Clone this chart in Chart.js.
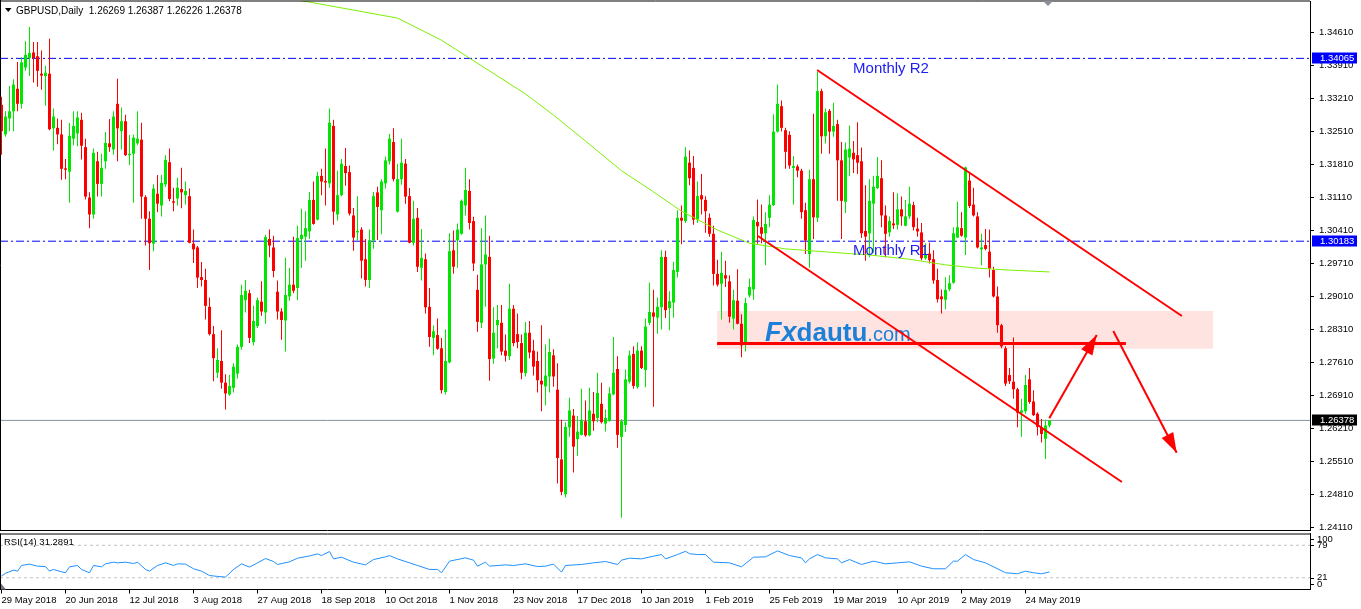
<!DOCTYPE html>
<html><head><meta charset="utf-8">
<script src="https://cdn.jsdelivr.net/npm/chart.js@4.4.1/dist/chart.umd.min.js"></script>
<style>
html,body{margin:0;padding:0;background:#fff;width:1361px;height:609px;overflow:hidden}
canvas{position:absolute;left:0}
#main{top:0}
#rsi{top:531px}
</style></head><body>
<canvas id="rsi" width="1361" height="78" style="width:1361px;height:78px"></canvas>
<canvas id="main" width="1361" height="545" style="width:1361px;height:545px"></canvas>
<script>
// ---------------- DATA ----------------
const symbolTitle = 'GBPUSD,Daily';
const opens = [1.3308,1.3245,1.3279,1.3294,1.3342,1.3310,1.3387,1.3407,1.3419,1.3411,
1.3374,1.3369,1.3374,1.3258,1.3259,1.3245,1.3173,1.3166,1.3236,1.3247,
1.3276,1.3218,1.3111,1.3075,1.3188,1.3140,1.3188,1.3226,1.3213,1.3310,
1.3252,1.3273,1.3201,1.3204,1.3226,1.3234,1.3112,1.3066,1.3013,1.3119,
1.3094,1.3139,1.3186,1.3103,1.3109,1.3129,1.3116,1.3114,1.3013,1.3005,
1.2942,1.2936,1.2879,1.2821,1.2739,1.2764,1.2718,1.2693,1.2707,1.2737,
1.2794,1.2893,1.2908,1.2804,1.2838,1.2890,1.2867,1.3023,1.3005,1.2911,
1.2869,1.2850,1.2901,1.2926,1.2919,1.3023,1.3028,1.3039,1.3106,1.3064,
1.3157,1.3146,1.3141,1.3263,1.3075,1.3116,1.3178,1.3165,1.3073,1.3037,
1.3043,1.2980,1.2936,1.3020,1.3122,1.3084,1.3141,1.3188,1.3229,1.3081,
1.3150,1.3183,1.3114,1.3015,1.3068,1.2962,1.2980,1.2879,1.2813,1.2819,
1.2791,1.2698,1.2761,1.2999,1.3020,1.3034,1.3094,1.3125,1.3061,1.2915,
1.2845,1.2969,1.2985,1.2769,1.2840,1.2845,1.2786,1.2774,1.2875,1.2821,
1.2802,1.2738,1.2824,1.2786,1.2764,1.2722,1.2710,1.2731,1.2776,1.2703,
1.2555,1.2481,1.2623,1.2648,1.2598,1.2607,1.2636,1.2606,1.2652,1.2643,
1.2673,1.2631,1.2637,1.2693,1.2747,1.2603,1.2628,1.2720,1.2779,1.2709,
1.2786,1.2745,1.2845,1.2867,1.2856,1.2878,1.2985,1.2876,1.2888,1.2953,
1.3068,1.3061,1.3185,1.3174,1.3064,1.3116,1.3106,1.3068,1.3034,1.2949,
1.2928,1.2946,1.2933,1.2854,1.2892,1.2843,1.2799,1.2903,1.2916,1.3059,
1.3048,1.3035,1.3068,1.3095,1.3251,1.3305,1.3254,1.3244,1.3174,1.3177,
1.3168,1.3084,1.2991,1.3150,1.3068,1.3337,1.3241,1.3295,1.3251,1.3267,
1.3190,1.3102,1.3196,1.3206,1.3201,1.3188,1.3040,1.3035,1.3098,1.3131,
1.3152,1.3073,1.3037,1.3056,1.3053,1.3086,1.3051,1.3071,1.3095,1.3045,
1.3037,1.2982,1.2992,1.2980,1.2936,1.2901,1.2894,1.2916,1.2930,1.3026,
1.3046,1.3026,1.3147,1.3096,1.3071,1.3001,1.3010,1.2996,1.2957,1.2901,
1.2840,1.2791,1.2734,1.2720,1.2704,1.2654,1.2657,1.2725,1.2678,1.2652,
1.2623,1.2599,1.26269];
const highs = [1.3325,1.3294,1.3348,1.3362,1.3399,1.3409,1.3443,1.3473,1.3441,1.3441,
1.3423,1.3391,1.3448,1.3300,1.3279,1.3276,1.3193,1.3269,1.3294,1.3294,
1.3291,1.3236,1.3122,1.3215,1.3208,1.3204,1.3250,1.3278,1.3294,1.3363,
1.3302,1.3287,1.3244,1.3245,1.3294,1.3270,1.3116,1.3082,1.3139,1.3159,
1.3159,1.3201,1.3215,1.3132,1.3153,1.3174,1.3145,1.3130,1.3043,1.3008,
1.2974,1.2960,1.2899,1.2838,1.2791,1.2829,1.2736,1.2734,1.2759,1.2799,
1.2926,1.2936,1.2915,1.2881,1.2899,1.2933,1.3032,1.3043,1.3030,1.2935,
1.2876,1.2983,1.2962,1.3028,1.3051,1.3087,1.3082,1.3123,1.3145,1.3166,
1.3172,1.3215,1.3300,1.3276,1.3168,1.3193,1.3216,1.3179,1.3089,1.3114,
1.3048,1.3023,1.3043,1.3123,1.3134,1.3150,1.3198,1.3246,1.3258,1.3183,
1.3236,1.3193,1.3131,1.3104,1.3089,1.3044,1.2992,1.2919,1.2840,1.2854,
1.2813,1.2831,1.3035,1.3041,1.3056,1.3107,1.3174,1.3150,1.3070,1.2947,
1.3046,1.3073,1.3030,1.2878,1.2883,1.2883,1.2820,1.2928,1.2883,1.2865,
1.2820,1.2847,1.2849,1.2809,1.2784,1.2840,1.2799,1.2811,1.2789,1.2759,
1.2639,1.2634,1.2686,1.2662,1.2647,1.2705,1.2680,1.2707,1.2698,1.2739,
1.2718,1.2661,1.2708,1.2815,1.2774,1.2640,1.2746,1.2786,1.2795,1.2804,
1.2795,1.2854,1.2930,1.2915,1.2899,1.2999,1.2998,1.2912,1.2974,1.3084,
1.3094,1.3218,1.3211,1.3199,1.3145,1.3161,1.3114,1.3077,1.3051,1.2979,
1.2996,1.2977,1.2946,1.2915,1.2959,1.2863,1.2898,1.2939,1.3071,1.3107,
1.3096,1.3080,1.3116,1.3288,1.3351,1.3317,1.3259,1.3252,1.3199,1.3181,
1.3172,1.3100,1.3170,1.3289,1.3378,1.3342,1.3300,1.3299,1.3312,1.3276,
1.3229,1.3228,1.3264,1.3231,1.3271,1.3217,1.3137,1.3150,1.3157,1.3197,
1.3190,1.3094,1.3071,1.3122,1.3120,1.3113,1.3106,1.3134,1.3102,1.3068,
1.3057,1.3014,1.3015,1.2999,1.2960,1.2916,1.2942,1.2946,1.3048,1.3102,
1.3080,1.3177,1.3165,1.3132,1.3080,1.3034,1.3044,1.3043,1.2964,1.2922,
1.2843,1.2795,1.2749,1.2814,1.2707,1.2684,1.2734,1.2749,1.2702,1.2655,
1.2641,1.2639,1.26387];
const lows = [1.3202,1.3240,1.3252,1.3252,1.3294,1.3300,1.3380,1.3369,1.3355,1.3346,
1.3340,1.3306,1.3254,1.3211,1.3224,1.3149,1.3150,1.3100,1.3222,1.3220,
1.3192,1.3107,1.3046,1.3066,1.3113,1.3113,1.3172,1.3208,1.3202,1.3188,
1.3213,1.3199,1.3180,1.3100,1.3222,1.3066,1.3009,1.2957,1.2997,1.3080,
1.3071,1.3134,1.3103,1.3082,1.3094,1.3088,1.3096,1.3014,1.2972,1.2919,
1.2922,1.2852,1.2818,1.2721,1.2728,1.2705,1.2661,1.2690,1.2697,1.2727,
1.2788,1.2867,1.2802,1.2797,1.2834,1.2860,1.2843,1.2984,1.2942,1.2852,
1.2809,1.2784,1.2892,1.2908,1.2893,1.2962,1.2977,1.3023,1.3053,1.3062,
1.3116,1.3094,1.3132,1.3053,1.3062,1.3114,1.3136,1.3073,1.2998,1.3020,
1.2939,1.2922,1.2919,1.3002,1.3021,1.3033,1.3130,1.3181,1.3145,1.3079,
1.3138,1.3098,1.3014,1.3009,1.2953,1.2935,1.2865,1.2794,1.2776,1.2788,
1.2695,1.2693,1.2759,1.2949,1.2962,1.3032,1.3073,1.3043,1.2955,1.2826,
1.2834,1.2879,1.2722,1.2758,1.2791,1.2776,1.2763,1.2766,1.2795,1.2791,
1.2725,1.2731,1.2770,1.2733,1.2697,1.2657,1.2670,1.2697,1.2709,1.2504,
1.2479,1.2474,1.2603,1.2527,1.2563,1.2606,1.2603,1.2604,1.2616,1.2634,
1.2631,1.2614,1.2635,1.2691,1.2580,1.2431,1.2613,1.2716,1.2705,1.2705,
1.2747,1.2708,1.2840,1.2667,1.2822,1.2831,1.2855,1.2829,1.2856,1.2941,
1.3012,1.3057,1.3137,1.3053,1.3057,1.3075,1.3036,1.3028,1.2924,1.2922,
1.2852,1.2921,1.2845,1.2831,1.2842,1.2772,1.2784,1.2899,1.2894,1.3013,
1.3014,1.2967,1.3048,1.3093,1.3249,1.3251,1.3172,1.3172,1.3096,1.3154,
1.3066,1.2991,1.2962,1.3023,1.3059,1.3204,1.3226,1.3204,1.3240,1.3104,
1.3023,1.3078,1.3156,1.3163,1.3161,1.3025,1.2977,1.2984,1.2994,1.3129,
1.3048,1.2984,1.3028,1.3044,1.3043,1.3051,1.3050,1.3066,1.3041,1.3028,
1.2978,1.2979,1.2971,1.2928,1.2888,1.2865,1.2874,1.2912,1.2928,1.3025,
1.3028,1.2989,1.3089,1.3071,1.3003,1.2967,1.2999,1.2941,1.2899,1.2824,
1.2791,1.2711,1.2715,1.2684,1.2623,1.2603,1.2652,1.2673,1.2647,1.2606,
1.2591,1.2556,1.26226];
const closes = [1.3252,1.3283,1.3294,1.3351,1.3310,1.3398,1.3414,1.3418,1.3407,1.3380,
1.3370,1.3376,1.3256,1.3283,1.3245,1.3172,1.3170,1.3242,1.3263,1.3281,
1.3221,1.3113,1.3075,1.3206,1.3140,1.3174,1.3227,1.3218,1.3283,1.3258,
1.3273,1.3201,1.3204,1.3238,1.3236,1.3113,1.3066,1.3014,1.3130,1.3098,
1.3142,1.3191,1.3108,1.3100,1.3132,1.3122,1.3125,1.3015,1.3001,1.2941,
1.2936,1.2881,1.2821,1.2770,1.2766,1.2718,1.2695,1.2711,1.2752,1.2794,
1.2904,1.2913,1.2813,1.2849,1.2893,1.2869,1.3027,1.3009,1.2955,1.2869,
1.2851,1.2904,1.2926,1.2913,1.3025,1.3032,1.3046,1.3106,1.3055,1.3157,
1.3145,1.3143,1.3270,1.3081,1.3116,1.3183,1.3163,1.3077,1.3026,1.3040,
1.2977,1.2936,1.3020,1.3114,1.3091,1.3145,1.3190,1.3236,1.3150,1.3150,
1.3185,1.3113,1.3015,1.3066,1.2964,1.2983,1.2878,1.2815,1.2827,1.2790,
1.2702,1.2764,1.2997,1.2964,1.3043,1.3104,1.3127,1.3057,1.2971,1.2847,
1.2969,1.2990,1.2768,1.2824,1.2851,1.2784,1.2775,1.2875,1.2802,1.2804,
1.2739,1.2824,1.2782,1.2752,1.2723,1.2714,1.2733,1.2783,1.2731,1.2558,
1.2486,1.2624,1.2659,1.2582,1.2614,1.2639,1.2606,1.2659,1.2636,1.2696,
1.2634,1.2643,1.2695,1.2739,1.2607,1.2636,1.2725,1.2776,1.2711,1.2786,
1.2749,1.2837,1.2868,1.2858,1.2879,1.2985,1.2872,1.2891,1.2957,1.3068,
1.3062,1.3198,1.3152,1.3064,1.3114,1.3107,1.3082,1.3034,1.2949,1.2926,
1.2951,1.2939,1.2858,1.2893,1.2843,1.2797,1.2887,1.2921,1.3063,1.3050,
1.3034,1.3055,1.3096,1.3251,1.3310,1.3259,1.3208,1.3179,1.3178,1.3168,
1.3080,1.3020,1.3150,1.3069,1.3337,1.3241,1.3292,1.3251,1.3263,1.3190,
1.3104,1.3213,1.3215,1.3192,1.3185,1.3035,1.3028,1.3104,1.3134,1.3157,
1.3073,1.3034,1.3061,1.3052,1.3086,1.3071,1.3071,1.3098,1.3048,1.3039,
1.2982,1.2989,1.2978,1.2935,1.2895,1.2895,1.2915,1.2929,1.3035,1.3048,
1.3030,1.3175,1.3093,1.3073,1.3005,1.3005,1.3002,1.2960,1.2901,1.2840,
1.2795,1.2716,1.2721,1.2704,1.2654,1.2659,1.2713,1.2677,1.2649,1.2624,
1.2609,1.2627,1.26378];

// x-axis date labels (one every 16 daily bars)
const tickLabels = ['29 May 2018','20 Jun 2018','12 Jul 2018','3 Aug 2018','27 Aug 2018','18 Sep 2018','10 Oct 2018','1 Nov 2018','23 Nov 2018','17 Dec 2018','10 Jan 2019','1 Feb 2019','25 Feb 2019','19 Mar 2019','10 Apr 2019','2 May 2019','24 May 2019'];
const tickBars = [0,16,32,48,64,80,96,112,128,144,160,176,192,208,224,240,256];
// price axis tick labels
const priceTicks = [1.24110,1.24810,1.25510,1.26210,1.26910,1.27610,1.28310,1.29010,1.29710,1.30410,1.31110,1.31810,1.32510,1.33210,1.33910,1.34610];

// moving average (read at bar positions)
const maBars = [74,77,88,99,110,117,131,138,146,155,163,170,179,187,196,207,217,227,236,244,252,262];
const maValues = [1.3530,1.3526,1.3509,1.3492,1.3445,1.3407,1.3331,1.3286,1.3231,1.3168,1.3123,1.3082,1.3042,1.3014,1.3002,1.2995,1.2989,1.2980,1.2968,1.2961,1.2957,1.2953];

// RSI(14) read at bar positions
const rsiBars = [0,1,3,4,5,7,9,11,12,13,15,16,17,19,20,22,23,25,26,28,29,31,33,34,36,37,39,41,43,44,46,48,50,52,54,56,58,60,62,64,66,68,69,72,74,77,79,80,82,83,85,88,91,93,96,97,99,102,104,107,109,110,112,116,118,119,121,122,126,128,131,134,136,138,140,141,145,148,151,154,155,157,160,163,165,166,169,171,172,174,176,178,182,185,188,191,194,197,200,201,202,204,206,209,210,212,215,218,221,224,227,230,233,236,238,239,241,243,246,251,254,256,258,260,262];
const rsiValues = [24,29,34.6,32.8,42.9,45.3,41.7,41,32.8,35.8,31.6,29.9,40.5,42.9,35.8,29.9,42.9,40.5,45.8,48.8,47.6,48.8,46.4,48.8,35.8,32.8,42.9,47.6,42.9,45.8,45.3,37,32.8,25,23.4,22.2,35.8,45.8,40,47.6,55.3,50,44.7,49.4,55.9,60,63.6,60.6,67.8,54.7,57.7,48.8,44,53.5,58.3,60.6,54.7,47.6,42.9,35.8,35.8,29.9,50.6,56.5,52.4,41.7,48.8,41.7,44,42.9,45.8,41,41.7,45.3,31,42.9,44.7,47.6,50,44.7,52.4,55.9,54.7,59.5,62.4,54.7,62.4,68.3,64,62.4,62.4,48.8,47.6,40.5,57.7,58.3,68.9,60.6,56.5,47.6,54.7,62.4,56.5,54.7,47.6,53.5,44.7,50.6,45.8,47.6,49.4,41.7,37,37,50.6,50.6,62.4,53.5,47.6,29.9,28.1,32.8,29.9,28.1,31.29];
const rsiLast = '31.2891';
const rsiLevels = [79, 21];

// levels and drawn objects (bar index, price)
const pivotR2 = 1.34065, pivotR1 = 1.30183, lastPrice = 1.26378;
const upperChannel = [[203.9,1.33818],[295.1,1.28595]];
const lowerChannel = [[189.1,1.30293],[280.1,1.25070]];
const supportLine = [[178.9,1.28011],[281.1,1.28011]];
const zone = {from:178.9, to:302.9, top:1.28701, bottom:1.27901};
const arrowUp = [[261.95,1.26423],[273.8,1.28192]];
const arrowDown = [[277.95,1.28277],[293.8,1.25692]];
const labelR2 = {bar:212.9, text:'Monthly R2'};
const labelR1 = {bar:212.9, text:'Monthly R1'};
const watermark = {bar:190.9, price:1.28054};

// ---------------- STYLE ----------------
const FONT = '"Liberation Sans", Arial, sans-serif';
const BULL = '#00e600', BEAR = '#ff0000';
const X_MIN = -0.375, X_MAX = 327.125;
const Y_MIN = 1.24051, Y_MAX = 1.35283;

const colorOf = i => closes[i] >= opens[i] ? BULL : BEAR;
const pts = arr => arr.map(p => ({x:p[0], y:p[1]}));
const fmt5 = v => v.toFixed(5);

const mainDecor = {
  id:'mainDecor',
  beforeDatasetsDraw(chart){
    const {ctx, scales:{x, y}} = chart;
    ctx.save();
    const x0 = x.getPixelForValue(zone.from), x1 = x.getPixelForValue(zone.to);
    const y0 = y.getPixelForValue(zone.top), y1 = y.getPixelForValue(zone.bottom);
    ctx.fillStyle = '#ffe3e1';
    ctx.fillRect(x0, y0, x1-x0, y1-y0);
    const wx = x.getPixelForValue(watermark.bar), wy = y.getPixelForValue(watermark.price);
    ctx.fillStyle = '#1c80d8';
    ctx.textBaseline = 'alphabetic';
    ctx.font = 'italic bold 27px ' + FONT;
    ctx.fillText('Fx', wx, wy);
    let w = ctx.measureText('Fx').width;
    ctx.font = 'bold 26px ' + FONT;
    ctx.fillText('dautu', wx + w, wy);
    w += ctx.measureText('dautu').width;
    ctx.font = '20px ' + FONT;
    ctx.fillText('.com', wx + w, wy);
    ctx.restore();
  },
  afterDatasetsDraw(chart){
    const {ctx, scales:{x, y}} = chart;
    ctx.save();
    ctx.fillStyle = '#ff0000';
    [arrowUp, arrowDown].forEach(a => {
      const px0 = x.getPixelForValue(a[0][0]), py0 = y.getPixelForValue(a[0][1]);
      const px1 = x.getPixelForValue(a[1][0]), py1 = y.getPixelForValue(a[1][1]);
      const dx = px1-px0, dy = py1-py0, len = Math.hypot(dx, dy);
      const ux = dx/len, uy = dy/len, nx = -uy, ny = ux;
      const L = 20, W = 6.5;
      ctx.beginPath();
      ctx.moveTo(px1, py1);
      ctx.lineTo(px1 - ux*L + nx*W, py1 - uy*L + ny*W);
      ctx.lineTo(px1 - ux*L - nx*W, py1 - uy*L - ny*W);
      ctx.closePath();
      ctx.fill();
    });
    ctx.fillStyle = '#2020f0';
    ctx.font = '15px ' + FONT;
    ctx.textBaseline = 'alphabetic';
    ctx.fillText(labelR2.text, x.getPixelForValue(labelR2.bar), y.getPixelForValue(pivotR2) + 14.3);
    ctx.fillText(labelR1.text, x.getPixelForValue(labelR1.bar), y.getPixelForValue(pivotR1) + 14.3);
    ctx.restore();
  },
  afterDraw(chart){
    const {ctx, chartArea:a, scales:{y}} = chart;
    ctx.save();
    ctx.strokeStyle = '#000'; ctx.lineWidth = 1;
    ctx.beginPath();
    ctx.moveTo(a.right, a.top + 0.5 - 0.5); ctx.lineTo(0.5, a.top - 0.5 + 0.5);
    ctx.moveTo(0.5, 0); ctx.lineTo(0.5, a.bottom + 0.5);
    ctx.moveTo(0, a.bottom + 0.5); ctx.lineTo(a.right, a.bottom + 0.5);
    ctx.stroke();
    // price boxes on the axis
    ctx.font = '9.5px ' + FONT;
    ctx.textBaseline = 'middle';
    [[pivotR2,'#0000ff'],[pivotR1,'#0000ff'],[lastPrice,'#000000']].forEach(([v, bg]) => {
      const py = Math.round(y.getPixelForValue(v));
      ctx.fillStyle = bg;
      ctx.fillRect(y.left + 2, py - 5.5, 45, 11);
      ctx.fillStyle = '#fff';
      ctx.fillText(fmt5(v), y.left + 10, py + 0.5);
    });
    // header
    ctx.fillStyle = '#000';
    ctx.beginPath(); ctx.moveTo(5, 8); ctx.lineTo(11.5, 8); ctx.lineTo(8.25, 12); ctx.closePath(); ctx.fill();
    ctx.font = '10px ' + FONT;
    ctx.textBaseline = 'alphabetic';
    ctx.fillText(symbolTitle + '  ' + [opens, highs, lows, closes].map(s => fmt5(s[s.length-1])).join(' '), 16, 13.5);
    // chart shift marker
    ctx.fillStyle = '#8a8f99';
    ctx.beginPath(); ctx.moveTo(1043, 1); ctx.lineTo(1053, 1); ctx.lineTo(1048, 6); ctx.closePath(); ctx.fill();
    ctx.restore();
  }
};

new Chart(document.getElementById('main'), {
  type:'bar',
  data:{datasets:[
    {type:'line', data:pts(upperChannel), borderColor:'#ff0000', borderWidth:2, pointRadius:0, order:1},
    {type:'line', data:pts(lowerChannel), borderColor:'#ff0000', borderWidth:2, pointRadius:0, order:1},
    {type:'line', data:pts(supportLine), borderColor:'#ff0000', borderWidth:3, pointRadius:0, order:1},
    {type:'line', data:pts(arrowUp), borderColor:'#ff0000', borderWidth:2, pointRadius:0, order:1},
    {type:'line', data:pts(arrowDown), borderColor:'#ff0000', borderWidth:2, pointRadius:0, order:1},
    {type:'line', data:maBars.map((b,i)=>({x:b, y:maValues[i]})), borderColor:'#7ef000', borderWidth:1, pointRadius:0, order:2},
    {type:'bar', data:opens.map((o,i)=>({x:i, y:[Math.min(o,closes[i]), Math.max(o,closes[i])]})), backgroundColor:c=>colorOf(c.dataIndex), barThickness:3, grouped:false, minBarLength:1, borderWidth:0, inflateAmount:0, order:3},
    {type:'bar', data:opens.map((o,i)=>({x:i, y:[lows[i], highs[i]]})), backgroundColor:c=>colorOf(c.dataIndex), barThickness:1, grouped:false, borderWidth:0, inflateAmount:0, order:4},
    {type:'line', data:[{x:X_MIN,y:pivotR2},{x:X_MAX,y:pivotR2}], borderColor:'#0000ff', borderWidth:1, borderDash:[8,3,2,3], pointRadius:0, order:5},
    {type:'line', data:[{x:X_MIN,y:pivotR1},{x:X_MAX,y:pivotR1}], borderColor:'#0000ff', borderWidth:1, borderDash:[8,3,2,3], pointRadius:0, order:5},
    {type:'line', data:[{x:X_MIN,y:lastPrice},{x:X_MAX,y:lastPrice}], borderColor:'#8391a2', borderWidth:1, pointRadius:0, order:6}
  ]},
  options:{
    responsive:false, animation:false, events:[], devicePixelRatio:1,
    layout:{padding:{top:1, left:0, right:0, bottom:15}},
    plugins:{legend:{display:false}, tooltip:{enabled:false}},
    scales:{
      x:{type:'linear', min:X_MIN, max:X_MAX, display:false, offset:false},
      y:{position:'right', min:Y_MIN, max:Y_MAX,
        afterBuildTicks:s=>{ s.ticks = priceTicks.map(v=>({value:v})); },
        afterFit:s=>{ s.width = 51; s.paddingTop = 0; s.paddingBottom = 0; },
        ticks:{callback:v=>fmt5(v), color:'#000', padding:5, autoSkip:false, font:{family:FONT, size:9.5}},
        grid:{drawOnChartArea:false, drawTicks:true, tickLength:4, color:'#000'},
        border:{display:true, color:'#000'}
      }
    }
  },
  plugins:[mainDecor]
});

const rsiDecor = {
  id:'rsiDecor',
  afterDraw(chart){
    const {ctx, chartArea:a, scales:{y}} = chart;
    ctx.save();
    ctx.strokeStyle = '#000'; ctx.lineWidth = 1;
    ctx.beginPath();
    ctx.moveTo(0, a.top + 0.5); ctx.lineTo(a.right, a.top + 0.5);
    ctx.moveTo(0.5, a.top); ctx.lineTo(0.5, a.bottom);
    ctx.stroke();
    ctx.fillStyle = '#000';
    ctx.font = '9.5px ' + FONT;
    ctx.textBaseline = 'middle';
    ctx.fillText('RSI(14) ' + rsiLast, 4, a.top + 9);
    const lab = [[100, 5.5],[79, 0],[21, 0],[0, -5.5]];
    lab.forEach(([v, off]) => {
      const py = y.getPixelForValue(v) + off;
      ctx.fillText(String(v), y.left + 7, py);
      ctx.fillRect(y.left, Math.round(py), 4, 1);
    });
    ctx.fillStyle = '#70757e';
    ctx.beginPath(); ctx.moveTo(1, a.bottom - 6); ctx.lineTo(1, a.bottom); ctx.lineTo(6, a.bottom); ctx.closePath(); ctx.fill();
    ctx.restore();
  }
};

new Chart(document.getElementById('rsi'), {
  type:'line',
  data:{datasets:[
    {data:rsiBars.map((b,i)=>({x:b, y:rsiValues[i]})), borderColor:'#1e90ff', borderWidth:1, pointRadius:0, order:1},
    {data:[{x:X_MIN,y:rsiLevels[0]},{x:X_MAX,y:rsiLevels[0]}], borderColor:'#c0c0c0', borderWidth:1, borderDash:[3,3], pointRadius:0, order:2},
    {data:[{x:X_MIN,y:rsiLevels[1]},{x:X_MAX,y:rsiLevels[1]}], borderColor:'#c0c0c0', borderWidth:1, borderDash:[3,3], pointRadius:0, order:2}
  ]},
  options:{
    responsive:false, animation:false, events:[], devicePixelRatio:1,
    layout:{padding:{top:2.5, left:0, right:0, bottom:0}},
    plugins:{legend:{display:false}, tooltip:{enabled:false}},
    scales:{
      x:{type:'linear', min:X_MIN, max:X_MAX, offset:false,
        afterBuildTicks:s=>{ s.ticks = tickBars.map(v=>({value:v})); },
        afterFit:s=>{ s.height = 19.5; s.paddingLeft = 0; s.paddingRight = 0; },
        ticks:{callback:(v,i)=>tickLabels[i], autoSkip:false, maxRotation:0, minRotation:0, align:'start', padding:1, color:'#000', font:{family:FONT, size:9.5}},
        grid:{drawOnChartArea:false, drawTicks:true, tickLength:4, color:'#000'},
        border:{display:true, color:'#000'}
      },
      y:{position:'right', min:0, max:100,
        afterFit:s=>{ s.width = 51; s.paddingTop = 0; s.paddingBottom = 0; },
        ticks:{display:false}, grid:{display:false},
        border:{display:true, color:'#000'}
      }
    }
  },
  plugins:[rsiDecor]
});
</script>
</body></html>
